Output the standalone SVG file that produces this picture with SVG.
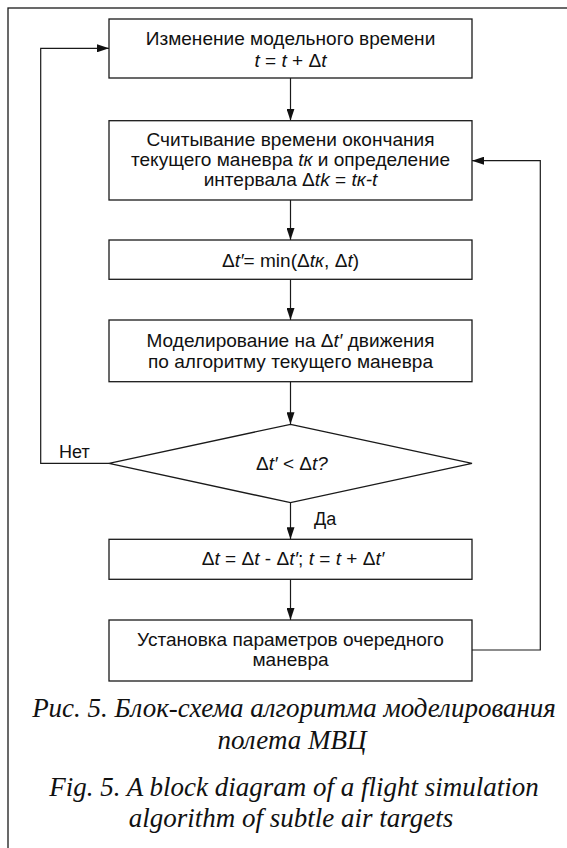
<svg xmlns="http://www.w3.org/2000/svg" width="567" height="848" viewBox="0 0 567 848">
<style>
.box{fill:#fff;stroke:#1a1a1a;stroke-width:1.3}
.ln{fill:none;stroke:#1a1a1a;stroke-width:1.2}
.t{font-family:"Liberation Sans",Arial,sans-serif;font-size:18px;fill:#111;text-anchor:middle}
.l{font-family:"Liberation Sans",Arial,sans-serif;font-size:18px;fill:#111}
.i{font-style:italic}
.cap{font-family:"Liberation Serif","Times New Roman",serif;font-style:italic;font-size:27px;fill:#111;text-anchor:middle}
</style>
<defs>
<marker id="ah" viewBox="0 0 12 8" refX="12" refY="4" markerWidth="12" markerHeight="8" markerUnits="userSpaceOnUse" orient="auto">
<path d="M0,0 L12,4 L0,8 Z" fill="#111"/>
</marker>
</defs>
<rect x="8" y="8" width="600" height="900" fill="none" stroke="#1a1a1a" stroke-width="1.3"/>
<g id="connectors">
<path class="ln" d="M290.5,78 V120.7" marker-end="url(#ah)"/>
<path class="ln" d="M290.5,200 V240" marker-end="url(#ah)"/>
<path class="ln" d="M290.5,279.3 V320" marker-end="url(#ah)"/>
<path class="ln" d="M290.5,381.7 V424.3" marker-end="url(#ah)"/>
<path class="ln" d="M290.5,502.7 V539.3" marker-end="url(#ah)"/>
<path class="ln" d="M290.5,579.3 V620" marker-end="url(#ah)"/>
<path class="ln" d="M109,463.3 H40.7 V48.3 H109" marker-end="url(#ah)"/>
<path class="ln" d="M472,650 H540.3 V160.7 H472" marker-end="url(#ah)"/>
<text class="l" x="59" y="458">Нет</text>
<text class="l" x="314" y="525">Да</text>
</g>
<g id="n1">
<rect class="box" x="109" y="19" width="363" height="59"/>
<text class="t" transform="matrix(1.06 0 0 1 290.5 45)">Изменение модельного времени</text>
<text class="t" transform="matrix(1.06 0 0 1 290.5 67)"><tspan class="i">t</tspan> = <tspan class="i">t</tspan> + Δ<tspan class="i">t</tspan></text>
</g>
<g id="n2">
<rect class="box" x="109" y="120.7" width="363" height="79.3"/>
<text class="t" transform="matrix(1.06 0 0 1 290.5 146)">Считывание времени окончания</text>
<text class="t" transform="matrix(1.06 0 0 1 290.5 166)">текущего маневра <tspan class="i">tк</tspan> и определение</text>
<text class="t" transform="matrix(1.06 0 0 1 290.5 186)">интервала Δ<tspan class="i">tk</tspan> =  <tspan class="i">tк-t</tspan></text>
</g>
<g id="n3">
<rect class="box" x="109" y="240" width="363" height="39.3"/>
<text class="t" transform="matrix(1.06 0 0 1 290.5 267)">Δ<tspan class="i">t′</tspan>= min(Δ<tspan class="i">tк</tspan>, Δ<tspan class="i">t</tspan>)</text>
</g>
<g id="n4">
<rect class="box" x="109" y="320" width="363" height="61.7"/>
<text class="t" transform="matrix(1.06 0 0 1 290.5 347)">Моделирование на Δ<tspan class="i">t′</tspan> движения</text>
<text class="t" transform="matrix(1.06 0 0 1 290.5 368)">по алгоритму текущего маневра</text>
</g>
<g id="n5">
<polygon class="box" points="290.5,424.3 472,463.3 290.5,502.7 109,463.3"/>
<text class="t" transform="matrix(1.06 0 0 1 292 470)">Δ<tspan class="i">t′</tspan> &lt; Δ<tspan class="i">t?</tspan></text>
</g>
<g id="n6">
<rect class="box" x="109" y="539.3" width="363" height="40"/>
<text class="t" transform="matrix(1.06 0 0 1 293 565)">Δ<tspan class="i">t</tspan> = Δ<tspan class="i">t</tspan> - Δ<tspan class="i">t′</tspan>; <tspan class="i">t</tspan>  = <tspan class="i">t</tspan> + Δ<tspan class="i">t′</tspan></text>
</g>
<g id="n7">
<rect class="box" x="109" y="620" width="363" height="61"/>
<text class="t" transform="matrix(1.06 0 0 1 290.5 646)">Установка параметров очередного</text>
<text class="t" transform="matrix(1.06 0 0 1 290.5 666)">маневра</text>
</g>
<g id="caption">
<text class="cap" x="294" y="717">Рис. 5. Блок-схема алгоритма моделирования</text>
<text class="cap" x="292" y="749">полета МВЦ</text>
<text class="cap" x="294" y="796">Fig. 5. A block diagram of a flight simulation</text>
<text class="cap" x="291" y="827">algorithm of subtle air targets</text>
</g>
</svg>
